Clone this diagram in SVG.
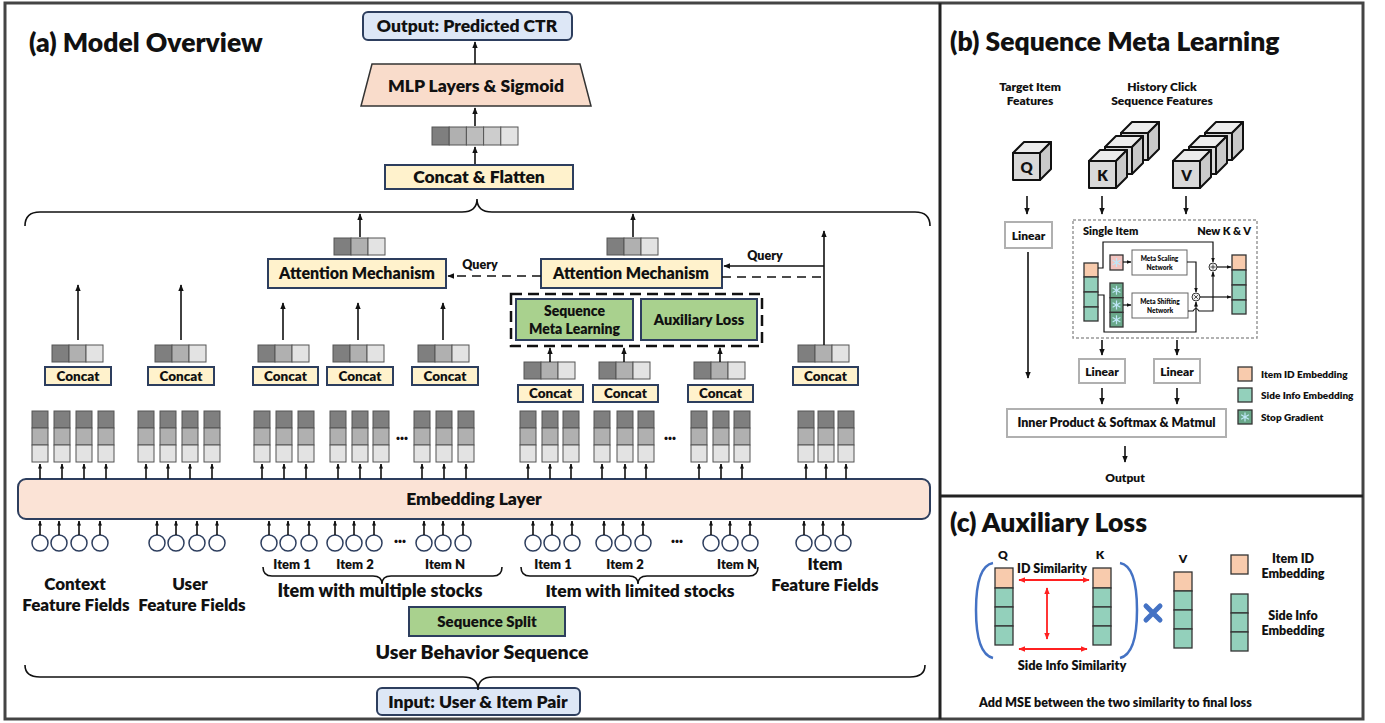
<svg xmlns="http://www.w3.org/2000/svg" xmlns:xlink="http://www.w3.org/1999/xlink" width="1385" height="723" viewBox="0 0 1385 723">
<style>
text{font-family:Lato,"Liberation Sans",sans-serif;font-weight:800;fill:#111}
.c{text-anchor:middle}
.ln{stroke:#111;stroke-width:1.6;fill:none}
.lnt{stroke:#111;stroke-width:1.2;fill:none}
.ybox{fill:#fff2cc;stroke:#2d3e5e;stroke-width:2}
.bbox{fill:#dde7f6;stroke:#2d3e5e;stroke-width:2}
.gbox{fill:#a9d18e;stroke:#2d3e5e;stroke-width:2}
.lbox{fill:#fff;stroke:#b0b0b0;stroke-width:2}
.mbox{fill:#fff;stroke:#666;stroke-width:1}
.c1{fill:#7f7f7f;stroke:#555;stroke-width:1}
.c2{fill:#b0b0b0;stroke:#555;stroke-width:1}
.c3{fill:#e3e3e3;stroke:#555;stroke-width:1}
.c4{fill:#cdcdcd;stroke:#555;stroke-width:1}
.org{fill:#f8cbad;stroke:#333;stroke-width:1.3}
.grn{fill:#93d0bb;stroke:#333;stroke-width:1.3}
.sg{fill:#6aa88a;stroke:#333;stroke-width:1.3}
.red{stroke:#ff2020;stroke-width:1.8;fill:none}
</style>
<defs>
<marker id="ah" viewBox="0 0 10 10" refX="9" refY="5" markerWidth="7" markerHeight="7" markerUnits="userSpaceOnUse" orient="auto"><path d="M0,1 L10,5 L0,9 z" fill="#111"/></marker>
<marker id="as" viewBox="0 0 10 10" refX="9" refY="5" markerWidth="5" markerHeight="5" markerUnits="userSpaceOnUse" orient="auto"><path d="M0,1 L10,5 L0,9 z" fill="#111"/></marker>
<marker id="ar" viewBox="0 0 10 10" refX="9" refY="5" markerWidth="7" markerHeight="7" markerUnits="userSpaceOnUse" orient="auto-start-reverse"><path d="M0,1 L10,5 L0,9 z" fill="#ff2020"/></marker>
<g id="col"><rect x="0" y="0" width="16" height="17" class="c1"/><rect x="0" y="17" width="16" height="17" class="c2"/><rect x="0" y="34" width="16" height="17" class="c3"/></g>
<g id="vec3"><rect x="0" y="0" width="17" height="17" class="c1"/><rect x="17" y="0" width="17" height="17" class="c2"/><rect x="34" y="0" width="17" height="17" class="c3"/></g>
<g id="upa"><line x1="8" y1="16" x2="8" y2="1" class="ln" marker-end="url(#as)"/></g>
<g id="inp"><circle cx="0" cy="0" r="8" fill="#fff" stroke="#2d3e5e" stroke-width="1.5"/><line x1="0" y1="-8" x2="0" y2="-22" class="ln" marker-end="url(#as)"/></g>
<g id="snow"><path d="M0,-4.5 V4.5 M-3.9,-2.25 L3.9,2.25 M-3.9,2.25 L3.9,-2.25" stroke="#bfe6f7" stroke-width="1.2" fill="none"/></g>
</defs>
<rect width="1385" height="723" fill="#fff"/>
<g id="frame">
<rect x="5" y="3" width="1358" height="716" fill="none" stroke="#444" stroke-width="3"/>
<line x1="940" y1="3" x2="940" y2="719" stroke="#222" stroke-width="3"/>
<line x1="940" y1="496" x2="1363" y2="496" stroke="#222" stroke-width="3"/>
</g>
<g id="titles">
<text x="29" y="52" font-size="26.5">(a) Model Overview</text>
<text x="950" y="51" font-size="26.5">(b) Sequence Meta Learning</text>
<text x="950" y="532" font-size="26.5">(c) Auxiliary Loss</text>
</g>

<g id="output"><rect x="363" y="12" width="209" height="28" rx="5" class="bbox"/><text x="467" y="32" font-size="17.5" class="c">Output: Predicted CTR</text></g>
<g id="mlp"><polygon points="372,64 580,64 591,106 361,106" fill="#f9dccb" stroke="#333" stroke-width="1.5"/><text x="476" y="92" font-size="17.5" class="c">MLP Layers &amp; Sigmoid</text></g>
<g id="flatvec"><rect x="432" y="127" width="17.2" height="18" class="c1"/><rect x="449.2" y="127" width="17.2" height="18" class="c2"/><rect x="466.4" y="127" width="17.2" height="18" class="c2" style="fill:#bdbdbd"/><rect x="483.6" y="127" width="17.2" height="18" class="c4"/><rect x="500.8" y="127" width="17.2" height="18" class="c3"/></g>
<g id="concatflat"><rect x="385" y="165" width="188" height="24" class="ybox"/><text x="479" y="183" font-size="17.5" class="c">Concat &amp; Flatten</text></g>
<g id="attnL"><rect x="268" y="259" width="178" height="29" class="ybox"/><text x="357" y="279" font-size="16" class="c">Attention Mechanism</text><use href="#vec3" x="334" y="238"/></g>
<g id="attnR"><rect x="541" y="259" width="181" height="29" class="ybox"/><text x="631" y="279" font-size="16" class="c">Attention Mechanism</text><use href="#vec3" x="607" y="238"/></g>
<g id="smlaux">
<rect x="511" y="294" width="251" height="52" fill="none" stroke="#111" stroke-width="2.5" stroke-dasharray="11 6"/>
<rect x="516" y="299" width="117" height="41" class="gbox"/><text x="574.5" y="316" font-size="14" class="c">Sequence</text><text x="574.5" y="334" font-size="14" class="c">Meta Learning</text>
<rect x="641" y="299" width="116" height="41" class="gbox"/><text x="699" y="325" font-size="14.5" class="c">Auxiliary Loss</text>
</g>
<g id="concats">
<use href="#vec3" x="52" y="345"/><rect x="45" y="367" width="66" height="18" class="ybox"/><text x="78" y="381" font-size="13.5" class="c">Concat</text>
<use href="#vec3" x="155" y="345"/><rect x="148" y="367" width="66" height="18" class="ybox"/><text x="181" y="381" font-size="13.5" class="c">Concat</text>
<use href="#vec3" x="258" y="345"/><rect x="253" y="367" width="65" height="18" class="ybox"/><text x="285.5" y="381" font-size="13.5" class="c">Concat</text>
<use href="#vec3" x="333" y="345"/><rect x="327" y="367" width="66" height="18" class="ybox"/><text x="360" y="381" font-size="13.5" class="c">Concat</text>
<use href="#vec3" x="418" y="345"/><rect x="412" y="367" width="66" height="18" class="ybox"/><text x="445" y="381" font-size="13.5" class="c">Concat</text>
<use href="#vec3" x="524" y="362"/><rect x="518" y="385" width="65" height="17" class="ybox"/><text x="550.5" y="398" font-size="13.5" class="c">Concat</text>
<use href="#vec3" x="599" y="362"/><rect x="593" y="385" width="65" height="17" class="ybox"/><text x="625.5" y="398" font-size="13.5" class="c">Concat</text>
<use href="#vec3" x="694" y="362"/><rect x="688" y="385" width="65" height="17" class="ybox"/><text x="720.5" y="398" font-size="13.5" class="c">Concat</text>
<use href="#vec3" x="798" y="345"/><rect x="793" y="367" width="65" height="18" class="ybox"/><text x="825.5" y="381" font-size="13.5" class="c">Concat</text>
</g>
<g id="embcols">
<use href="#col" x="32" y="411"/><use href="#col" x="54" y="411"/><use href="#col" x="76" y="411"/><use href="#col" x="98" y="411"/>
<use href="#col" x="138" y="411"/><use href="#col" x="160" y="411"/><use href="#col" x="182" y="411"/><use href="#col" x="204" y="411"/>
<use href="#col" x="254" y="411"/><use href="#col" x="276" y="411"/><use href="#col" x="298" y="411"/>
<use href="#col" x="330" y="411"/><use href="#col" x="352" y="411"/><use href="#col" x="373" y="411"/>
<use href="#col" x="414" y="411"/><use href="#col" x="436" y="411"/><use href="#col" x="458" y="411"/>
<use href="#col" x="520" y="411"/><use href="#col" x="542" y="411"/><use href="#col" x="563" y="411"/>
<use href="#col" x="594" y="411"/><use href="#col" x="617" y="411"/><use href="#col" x="638" y="411"/>
<use href="#col" x="691" y="411"/><use href="#col" x="713" y="411"/><use href="#col" x="734" y="411"/>
<use href="#col" x="798" y="411"/><use href="#col" x="818" y="411"/><use href="#col" x="838" y="411"/>
<text x="402" y="443" font-size="14" class="c">···</text>
<text x="670" y="443" font-size="14" class="c">···</text>
</g>
<g id="embedding"><rect x="18" y="479" width="912" height="40" rx="8" fill="#fbe3d6" stroke="#2d3e5e" stroke-width="2"/><text x="474" y="505" font-size="17.5" class="c">Embedding Layer</text></g>
<g id="inputs">
<use href="#inp" x="40" y="543"/><use href="#inp" x="59" y="543"/><use href="#inp" x="79" y="543"/><use href="#inp" x="100" y="543"/>
<use href="#inp" x="157" y="543"/><use href="#inp" x="176" y="543"/><use href="#inp" x="197" y="543"/><use href="#inp" x="217" y="543"/>
<use href="#inp" x="269" y="543"/><use href="#inp" x="288" y="543"/><use href="#inp" x="309" y="543"/>
<use href="#inp" x="335" y="543"/><use href="#inp" x="354" y="543"/><use href="#inp" x="374" y="543"/>
<use href="#inp" x="424" y="543"/><use href="#inp" x="443" y="543"/><use href="#inp" x="463" y="543"/>
<use href="#inp" x="533" y="543"/><use href="#inp" x="552" y="543"/><use href="#inp" x="572" y="543"/>
<use href="#inp" x="604" y="543"/><use href="#inp" x="623" y="543"/><use href="#inp" x="643" y="543"/>
<use href="#inp" x="711" y="543"/><use href="#inp" x="730" y="543"/><use href="#inp" x="750" y="543"/>
<use href="#inp" x="804" y="543"/><use href="#inp" x="823" y="543"/><use href="#inp" x="843" y="543"/>
<text x="400" y="546" font-size="14" class="c">···</text>
<text x="677" y="546" font-size="14" class="c">···</text>
</g>
<g id="labels-a">
<text x="75" y="590" font-size="17" class="c">Context</text><text x="76" y="611" font-size="17" class="c">Feature Fields</text>
<text x="190" y="590" font-size="17" class="c">User</text><text x="192" y="611" font-size="17" class="c">Feature Fields</text>
<text x="292" y="569" font-size="13" class="c">Item 1</text><text x="355" y="569" font-size="13" class="c">Item 2</text><text x="445" y="569" font-size="13" class="c">Item N</text>
<text x="553" y="569" font-size="13" class="c">Item 1</text><text x="625" y="569" font-size="13" class="c">Item 2</text><text x="737" y="569" font-size="13" class="c">Item N</text>
<text x="380" y="597" font-size="18" class="c">Item with multiple stocks</text>
<text x="640" y="597" font-size="17.5" class="c">Item with limited stocks</text>
<text x="825" y="570" font-size="17" class="c">Item</text><text x="825" y="591" font-size="17" class="c">Feature Fields</text>
<text x="482" y="659" font-size="19.5" class="c">User Behavior Sequence</text>
</g>
<g id="seqsplit"><rect x="409" y="607" width="156" height="29" class="gbox"/><text x="487" y="627" font-size="15" class="c">Sequence Split</text></g>
<g id="input"><rect x="377" y="688" width="203" height="27" rx="5" class="bbox"/><text x="478" y="708" font-size="17.5" class="c">Input: User &amp; Item Pair</text></g>

<g id="connectors-a">
<path d="M25,226 Q25,212 40,212 L462,212 Q477,212 477,199 Q477,212 492,212 L915,212 Q930,212 930,226" class="ln"/>
<path d="M25,665 Q25,677 40,677 L463,677 Q478,677 478,690 Q478,677 493,677 L910,677 Q925,677 925,665" class="ln"/>
<path d="M263,567 Q263,576 272,576 L373,576 Q382,576 382,584 Q382,576 391,576 L493,576 Q502,576 502,567" class="ln"/>
<path d="M521,567 Q521,576 530,576 L629,576 Q638,576 638,584 Q638,576 647,576 L749,576 Q758,576 758,567" class="ln"/>
<line x1="475" y1="64" x2="475" y2="42" class="ln" marker-end="url(#ah)"/>
<line x1="475" y1="126" x2="475" y2="108" class="ln" marker-end="url(#ah)"/>
<line x1="475" y1="164" x2="475" y2="147" class="ln" marker-end="url(#ah)"/>
<line x1="360" y1="237" x2="360" y2="214" class="ln" marker-end="url(#ah)"/>
<line x1="633" y1="237" x2="633" y2="214" class="ln" marker-end="url(#ah)"/>
<line x1="78" y1="340" x2="78" y2="285" class="ln" marker-end="url(#ah)"/>
<line x1="181" y1="340" x2="181" y2="285" class="ln" marker-end="url(#ah)"/>
<line x1="283" y1="340" x2="283" y2="303" class="ln" marker-end="url(#ah)"/>
<line x1="358" y1="340" x2="358" y2="303" class="ln" marker-end="url(#ah)"/>
<line x1="443" y1="340" x2="443" y2="303" class="ln" marker-end="url(#ah)"/>
<line x1="550" y1="362" x2="550" y2="348" class="ln" marker-end="url(#ah)"/>
<line x1="624" y1="362" x2="624" y2="348" class="ln" marker-end="url(#ah)"/>
<line x1="720" y1="362" x2="720" y2="348" class="ln" marker-end="url(#ah)"/>
<line x1="824" y1="345" x2="824" y2="231" class="ln" marker-end="url(#ah)"/>
<line x1="824" y1="266" x2="724" y2="266" class="ln" marker-end="url(#ah)"/>
<line x1="722" y1="277" x2="824" y2="277" class="ln" stroke-dasharray="9 6"/>
<line x1="541" y1="276" x2="448" y2="276" class="ln" stroke-dasharray="9 6" marker-end="url(#ah)"/>
<text x="765" y="260" font-size="12.5" class="c">Query</text>
<text x="480" y="269" font-size="12.5" class="c">Query</text>
<g id="embarrows">
<use href="#upa" x="32" y="463"/><use href="#upa" x="54" y="463"/><use href="#upa" x="76" y="463"/><use href="#upa" x="98" y="463"/>
<use href="#upa" x="138" y="463"/><use href="#upa" x="160" y="463"/><use href="#upa" x="182" y="463"/><use href="#upa" x="204" y="463"/>
<use href="#upa" x="254" y="463"/><use href="#upa" x="276" y="463"/><use href="#upa" x="298" y="463"/>
<use href="#upa" x="330" y="463"/><use href="#upa" x="352" y="463"/><use href="#upa" x="373" y="463"/>
<use href="#upa" x="414" y="463"/><use href="#upa" x="436" y="463"/><use href="#upa" x="458" y="463"/>
<use href="#upa" x="520" y="463"/><use href="#upa" x="542" y="463"/><use href="#upa" x="563" y="463"/>
<use href="#upa" x="594" y="463"/><use href="#upa" x="617" y="463"/><use href="#upa" x="638" y="463"/>
<use href="#upa" x="691" y="463"/><use href="#upa" x="713" y="463"/><use href="#upa" x="734" y="463"/>
<use href="#upa" x="798" y="463"/><use href="#upa" x="818" y="463"/><use href="#upa" x="838" y="463"/>
</g>
</g>

<g id="b-labels">
<text x="1030" y="91" font-size="12" class="c">Target Item</text><text x="1030" y="105" font-size="12" class="c">Features</text>
<text x="1162" y="91" font-size="12" class="c">History Click</text><text x="1162" y="105" font-size="12" class="c">Sequence Features</text>
</g>
<g id="cubeQ" stroke="#111" stroke-width="2" stroke-linejoin="round">
<polygon points="1013,153 1024,142 1051,142 1040,153" fill="#ececec"/><polygon points="1040,153 1051,142 1051,169 1040,180" fill="#c9c9c9"/><rect x="1013" y="153" width="27" height="27" fill="#d9d9d9"/>
<text x="1026.5" y="173" font-size="15" class="c" stroke="none">Q</text>
</g>
<g id="cubeK" stroke="#111" stroke-width="2" stroke-linejoin="round">
<polygon points="1121,133 1132,122 1159,122 1148,133" fill="#ececec"/><polygon points="1148,133 1159,122 1159,149 1148,160" fill="#c9c9c9"/><rect x="1121" y="133" width="27" height="27" fill="#d9d9d9"/>
<polygon points="1105,147 1116,136 1143,136 1132,147" fill="#ececec"/><polygon points="1132,147 1143,136 1143,163 1132,174" fill="#c9c9c9"/><rect x="1105" y="147" width="27" height="27" fill="#d9d9d9"/>
<polygon points="1089,161 1100,150 1127,150 1116,161" fill="#ececec"/><polygon points="1116,161 1127,150 1127,177 1116,188" fill="#c9c9c9"/><rect x="1089" y="161" width="27" height="27" fill="#d9d9d9"/>
<text x="1102.5" y="181" font-size="15" class="c" stroke="none">K</text>
</g>
<g id="cubeV" stroke="#111" stroke-width="2" stroke-linejoin="round">
<polygon points="1205,133 1216,122 1243,122 1232,133" fill="#ececec"/><polygon points="1232,133 1243,122 1243,149 1232,160" fill="#c9c9c9"/><rect x="1205" y="133" width="27" height="27" fill="#d9d9d9"/>
<polygon points="1189,147 1200,136 1227,136 1216,147" fill="#ececec"/><polygon points="1216,147 1227,136 1227,163 1216,174" fill="#c9c9c9"/><rect x="1189" y="147" width="27" height="27" fill="#d9d9d9"/>
<polygon points="1173,161 1184,150 1211,150 1200,161" fill="#ececec"/><polygon points="1200,161 1211,150 1211,177 1200,188" fill="#c9c9c9"/><rect x="1173" y="161" width="27" height="27" fill="#d9d9d9"/>
<text x="1186.5" y="181" font-size="15" class="c" stroke="none">V</text>
</g>
<g id="linearQ"><rect x="1005" y="222" width="47" height="26" class="lbox"/><text x="1028.5" y="240" font-size="12" class="c">Linear</text></g>
<g id="meta">
<rect x="1073" y="220" width="184" height="118" fill="none" stroke="#999" stroke-width="1.5" stroke-dasharray="3 2"/>
<text x="1083" y="235" font-size="11">Single Item</text>
<text x="1251" y="235" font-size="11" text-anchor="end">New K &amp; V</text>
<rect x="1084" y="263" width="14" height="14" class="org"/><rect x="1084" y="277" width="14" height="15" class="grn"/><rect x="1084" y="292" width="14" height="15" class="grn"/><rect x="1084" y="307" width="14" height="14" class="grn"/>
<rect x="1110" y="255" width="13" height="15" fill="#f2c4c0" stroke="#333" stroke-width="1.3"/><use href="#snow" x="1116.5" y="262.5"/>
<rect x="1110" y="283" width="13" height="14.7" class="sg"/><rect x="1110" y="297.7" width="13" height="14.7" class="sg"/><rect x="1110" y="312.4" width="13" height="14.6" class="sg"/>
<use href="#snow" x="1116.5" y="290.3"/><use href="#snow" x="1116.5" y="305"/><use href="#snow" x="1116.5" y="319.7"/>
<rect x="1132" y="250" width="55" height="25" class="mbox"/><text x="1159.5" y="261" font-size="6.5" class="c">Meta Scaling</text><text x="1159.5" y="270" font-size="6.5" class="c">Network</text>
<rect x="1132" y="293" width="56" height="25" class="mbox"/><text x="1160" y="304" font-size="6.5" class="c">Meta Shifting</text><text x="1160" y="313" font-size="6.5" class="c">Network</text>
<circle cx="1213" cy="267" r="4" fill="#eee" stroke="#333" stroke-width="1"/><path d="M1210.5,267 H1215.5 M1213,264.5 V269.5" stroke="#333" stroke-width="0.9"/>
<circle cx="1196" cy="297" r="4" fill="#eee" stroke="#333" stroke-width="1"/><path d="M1194.2,295.2 L1197.8,298.8 M1194.2,298.8 L1197.8,295.2" stroke="#333" stroke-width="0.9"/>
<rect x="1232" y="255" width="14" height="15" class="org"/><rect x="1232" y="270" width="14" height="15" class="grn"/><rect x="1232" y="285" width="14" height="15" class="grn"/><rect x="1232" y="300" width="14" height="14" class="grn"/>
</g>
<g id="meta-connectors">
<path d="M1098,268 H1103 V242 H1213 V262" class="lnt" marker-end="url(#as)"/>
<line x1="1123" y1="262" x2="1131" y2="262" class="lnt" marker-end="url(#as)"/>
<path d="M1187,262 H1196 V292" class="lnt" marker-end="url(#as)"/>
<line x1="1123" y1="305" x2="1131" y2="305" class="lnt" marker-end="url(#as)"/>
<path d="M1098,295 H1104 V332 H1196 V302" class="lnt" marker-end="url(#as)"/>
<path d="M1188,311 H1193 Q1196,306 1199,311 H1213 V272" class="lnt" marker-end="url(#as)"/>
<line x1="1200" y1="297" x2="1231" y2="297" class="lnt" marker-end="url(#as)"/>
<line x1="1217" y1="267" x2="1231" y2="267" class="lnt" marker-end="url(#as)"/>
</g>
<g id="linearK"><rect x="1079" y="359" width="46" height="24" class="lbox"/><text x="1102" y="376" font-size="12" class="c">Linear</text></g>
<g id="linearV"><rect x="1154" y="359" width="46" height="24" class="lbox"/><text x="1177" y="376" font-size="12" class="c">Linear</text></g>
<g id="innerprod"><rect x="1007" y="409" width="219" height="28" class="lbox"/><text x="1116.5" y="427" font-size="12.5" class="c">Inner Product &amp; Softmax &amp; Matmul</text></g>
<g id="b-output"><text x="1125" y="482" font-size="12" class="c">Output</text></g>
<g id="b-legend">
<rect x="1238" y="367" width="14" height="14" class="org"/><text x="1261" y="378" font-size="10">Item ID Embedding</text>
<rect x="1238" y="388" width="14" height="14" class="grn"/><text x="1261" y="399" font-size="10">Side Info Embedding</text>
<rect x="1238" y="410" width="14" height="14" class="sg"/><use href="#snow" x="1245" y="417"/><text x="1261" y="421" font-size="10">Stop Gradient</text>
</g>
<g id="connectors-b">
<line x1="1027" y1="196" x2="1027" y2="214" class="ln" marker-end="url(#ah)"/>
<line x1="1102" y1="196" x2="1102" y2="214" class="ln" marker-end="url(#ah)"/>
<line x1="1186" y1="196" x2="1186" y2="214" class="ln" marker-end="url(#ah)"/>
<line x1="1028" y1="252" x2="1028" y2="378" class="ln" marker-end="url(#ah)"/>
<line x1="1102" y1="340" x2="1102" y2="355" class="ln" marker-end="url(#ah)"/>
<line x1="1177" y1="340" x2="1177" y2="355" class="ln" marker-end="url(#ah)"/>
<line x1="1102" y1="388" x2="1102" y2="404" class="ln" marker-end="url(#ah)"/>
<line x1="1177" y1="388" x2="1177" y2="404" class="ln" marker-end="url(#ah)"/>
<line x1="1125" y1="446" x2="1125" y2="462" class="ln" marker-end="url(#ah)"/>
</g>

<g id="c-stacks">
<text x="1003" y="559" font-size="12" class="c">Q</text>
<text x="1100" y="559" font-size="12" class="c">K</text>
<text x="1183" y="563" font-size="12" class="c">V</text>
<rect x="995" y="568" width="18" height="20" class="org"/><rect x="995" y="588" width="18" height="19" class="grn"/><rect x="995" y="607" width="18" height="19" class="grn"/><rect x="995" y="626" width="18" height="19" class="grn"/>
<rect x="1093" y="568" width="18" height="20" class="org"/><rect x="1093" y="588" width="18" height="19" class="grn"/><rect x="1093" y="607" width="18" height="19" class="grn"/><rect x="1093" y="626" width="18" height="19" class="grn"/>
<rect x="1174" y="572" width="18" height="19" class="org"/><rect x="1174" y="591" width="18" height="19" class="grn"/><rect x="1174" y="610" width="18" height="19" class="grn"/><rect x="1174" y="629" width="18" height="19" class="grn"/>
<path d="M993,563 Q976,566 976,610 Q976,654 993,658" fill="none" stroke="#4472c4" stroke-width="2.5"/>
<path d="M1120,563 Q1137,566 1137,610 Q1137,654 1120,658" fill="none" stroke="#4472c4" stroke-width="2.5"/>
<path d="M1146,606 L1160,620 M1160,606 L1146,620" stroke="#4472c4" stroke-width="5" stroke-linecap="round"/>
</g>
<g id="c-sim">
<text x="1017" y="573" font-size="12.5">ID Similarity</text>
<line x1="1019" y1="580" x2="1089" y2="580" class="red" marker-start="url(#ar)" marker-end="url(#ar)"/>
<line x1="1047" y1="588" x2="1047" y2="639" class="red" marker-start="url(#ar)" marker-end="url(#ar)"/>
<line x1="1019" y1="649" x2="1087" y2="649" class="red" marker-start="url(#ar)" marker-end="url(#ar)"/>
<text x="1072" y="670" font-size="12.8" class="c">Side Info Similarity</text>
</g>
<g id="c-legend">
<rect x="1231" y="555" width="17" height="19" class="org"/>
<text x="1293" y="563" font-size="12.5" class="c">Item ID</text><text x="1293" y="578" font-size="12.5" class="c">Embedding</text>
<rect x="1231" y="594" width="17" height="19" class="grn"/><rect x="1231" y="613" width="17" height="19" class="grn"/><rect x="1231" y="632" width="17" height="19" class="grn"/>
<text x="1293" y="620" font-size="12.5" class="c">Side Info</text><text x="1293" y="635" font-size="12.5" class="c">Embedding</text>
</g>
<g id="c-note"><text x="979" y="707" font-size="12.5">Add MSE between the two similarity to final loss</text></g>
</svg>
